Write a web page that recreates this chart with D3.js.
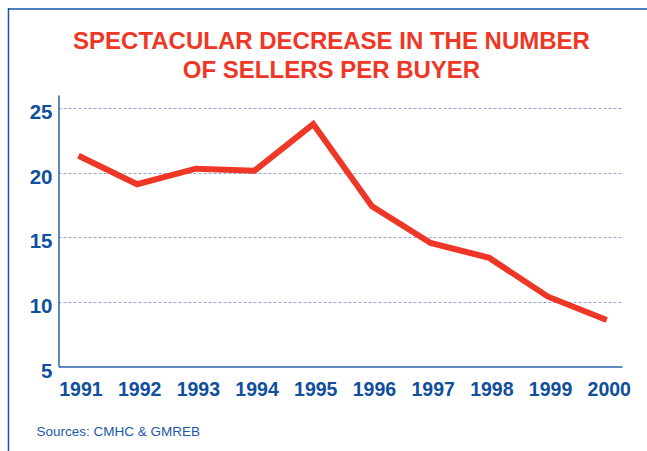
<!DOCTYPE html>
<html>
<head>
<meta charset="utf-8">
<script src="https://cdn.jsdelivr.net/npm/d3@7"></script>
<style>
  html, body { margin: 0; padding: 0; background: #fff; }
  svg { display: block; }
  text { font-family: "Liberation Sans", Arial, sans-serif; }
</style>
</head>
<body>
<script>
// ---- data ----
const years = [1991, 1992, 1993, 1994, 1995, 1996, 1997, 1998, 1999, 2000];
const sellersPerBuyer = [21.3, 19.1, 20.3, 20.15, 23.75, 17.4, 14.55, 13.4, 10.4, 8.6];
const yTicks = [5, 10, 15, 20, 25];
const gridTicks = [10, 15, 20, 25];
const titleLines = ["SPECTACULAR DECREASE IN THE NUMBER", "OF SELLERS PER BUYER"];
const sourceText = "Sources: CMHC & GMREB";

// ---- layout ----
const W = 647, H = 451;
const red = "#ee3726";
const blue = "#0f4f9c";

const svg = d3.select("body").append("svg").attr("width", W).attr("height", H);

// frame
svg.append("line").attr("x1", 8).attr("x2", W).attr("y1", 9).attr("y2", 9)
  .attr("stroke", "#4d80b8").attr("stroke-width", 2);
svg.append("line").attr("x1", 8.5).attr("x2", 8.5).attr("y1", 8).attr("y2", H)
  .attr("stroke", "#1d56a0").attr("stroke-width", 1.5);

// title
svg.append("g").selectAll("text").data(titleLines).join("text")
  .attr("x", 331.5).attr("y", (d, i) => 48.5 + i * 29)
  .attr("text-anchor", "middle")
  .attr("fill", red).attr("font-weight", "bold").attr("font-size", 24)
  .text(d => d);

// scales
const x = d3.scaleLinear().domain([1990.66, 2000.26]).range([58.5, 622]);
const y = d3.scaleLinear().domain([5, 26]).range([366.5, 95]);

// gridlines
svg.append("g").selectAll("line").data(gridTicks).join("line")
  .attr("x1", x(x.domain()[0])).attr("x2", x(x.domain()[1]))
  .attr("y1", d => Math.round(y(d)) + 0.5).attr("y2", d => Math.round(y(d)) + 0.5)
  .attr("stroke", "#97a6d4").attr("stroke-width", 1).attr("stroke-dasharray", "3,2");

// y axis
const yAxis = d3.axisLeft(y).tickValues(yTicks).tickSize(0).tickPadding(6);
const gy = svg.append("g").attr("transform", `translate(${x(x.domain()[0])},0)`).call(yAxis);
gy.select(".domain").attr("stroke", "#2a62ab").attr("stroke-width", 1.5);
gy.selectAll("text")
  .attr("fill", blue).attr("font-size", 20.5).attr("font-weight", "bold")
  .attr("font-family", "Liberation Sans, Arial, sans-serif")
  .attr("dy", "0.32em")
  .attr("transform", "translate(0,4)");

// x axis
const xAxis = d3.axisBottom(x).tickValues(years).tickFormat(d3.format("d")).tickSize(0).tickPadding(16);
const gx = svg.append("g").attr("transform", `translate(0,${y(5)})`).call(xAxis);
gx.select(".domain").attr("stroke", "#2a62ab").attr("stroke-width", 1.5);
gx.selectAll("text")
  .attr("fill", blue).attr("font-size", 19.5).attr("font-weight", "bold")
  .attr("font-family", "Liberation Sans, Arial, sans-serif")
  .attr("dx", 2);

// line
const line = d3.line().x((d, i) => x(years[i])).y(d => y(d));
svg.append("path").datum(sellersPerBuyer)
  .attr("d", line)
  .attr("fill", "none").attr("stroke", red).attr("stroke-width", 6)
  .attr("stroke-linejoin", "miter").attr("stroke-linecap", "butt");

// source
svg.append("text").attr("x", 36.5).attr("y", 436)
  .attr("fill", "#1a5aa6").attr("font-size", 13.5).text(sourceText);
</script>
</body>
</html>
